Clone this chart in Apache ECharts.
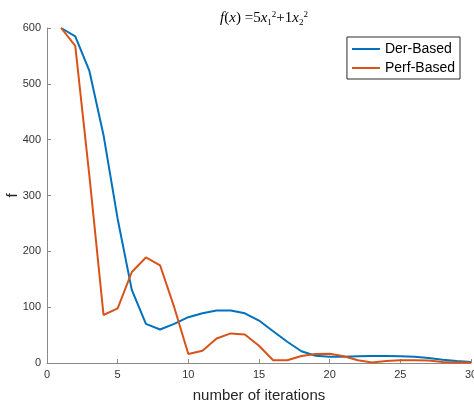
<!DOCTYPE html>
<html>
<head>
<meta charset="utf-8">
<script src="https://cdn.jsdelivr.net/npm/echarts@6/dist/echarts.min.js"></script>
<style>html,body{margin:0;padding:0;background:#fff}#c{width:474px;height:400px}</style>
</head>
<body>
<div id="c"></div>
<script>
var iterations = [1,2,3,4,5,6,7,8,9,10,11,12,13,14,15,16,17,18,19,20,21,22,23,24,25,26,27,28,29,30];
var derBased = [600,585,523,408,258,131,70,60,70,82,89,94,94,89,76,57,38,21,13,11,11,12,12.5,12.5,12,11,9,6,3.5,2];
var perfBased = [600,568,335,86,98,163,189,175,100,16,22,44,53,51,31,5,5,12.5,16,16.5,12,5,1,3.5,5,5,4.5,2,1,1];
var xTicks = {min:0, max:30, interval:5};
var yTicks = {min:0, max:600, interval:100};

function pairs(xs, ys){ return xs.map(function(x,i){ return [x, ys[i]]; }); }

var chart = echarts.init(document.getElementById('c'), null, {renderer:'canvas'});
var axisColor = '#8a8a8a';
var serif = 'Liberation Serif';
chart.setOption({
  animation:false,
  backgroundColor:'#fff',
  title:{
    text:'{it|f}{rm|(}{it|x}{rm|) =5}{it|x}{sub|1}{sup|2}{rm|+1}{it|x}{sub|2}{sup|2}',
    left:259, top:5, textAlign:'center',
    textStyle:{
      fontWeight:'normal',
      rich:{
        it:{fontFamily:serif, fontStyle:'italic', fontWeight:'normal', fontSize:15, color:'#000', lineHeight:17},
        rm:{fontFamily:serif, fontWeight:'normal', fontSize:15, color:'#000', lineHeight:17},
        sub:{fontFamily:serif, fontWeight:'normal', fontSize:9, color:'#000', verticalAlign:'bottom', lineHeight:9},
        sup:{fontFamily:serif, fontWeight:'normal', fontSize:9, color:'#000', verticalAlign:'top', lineHeight:9}
      }
    }
  },
  legend:{
    orient:'vertical', right:14, top:37,
    backgroundColor:'#fff',
    borderColor:'#2a2a2a', borderWidth:1,
    padding:[4,5,3,5], itemGap:3,
    icon:'rect', itemWidth:28, itemHeight:2, itemTextGap:4,
    textStyle:{fontFamily:'Liberation Sans', fontSize:14, color:'#000', lineHeight:16},
    data:['Der-Based','Perf-Based']
  },
  grid:{left:47, right:3, top:28, bottom:37, containLabel:false, outerBoundsMode:'none'},
  xAxis:{
    type:'value', min:xTicks.min, max:xTicks.max, interval:xTicks.interval,
    name:'number of iterations', nameLocation:'middle', nameGap:25, nameMoveOverlap:false,
    nameTextStyle:{fontFamily:'Liberation Sans', fontSize:15, color:'#262626'},
    axisLine:{lineStyle:{color:axisColor, width:1}},
    axisTick:{inside:true, length:4, lineStyle:{color:axisColor}},
    axisLabel:{fontFamily:'Liberation Sans', fontSize:11, color:'#333', margin:6},
    splitLine:{show:false}
  },
  yAxis:{
    type:'value', min:yTicks.min, max:yTicks.max, interval:yTicks.interval,
    name:'f', nameLocation:'middle', nameGap:27, nameMoveOverlap:false,
    nameTextStyle:{fontFamily:'Liberation Sans', fontSize:15, color:'#262626'},
    axisLine:{show:true, lineStyle:{color:axisColor, width:1}},
    axisTick:{show:true, inside:true, length:4, lineStyle:{color:axisColor}},
    axisLabel:{fontFamily:'Liberation Sans', fontSize:11, color:'#333', margin:6},
    splitLine:{show:false}
  },
  series:[
    {name:'Der-Based', type:'line', symbol:'none', data:pairs(iterations, derBased),
     lineStyle:{color:'#0072BD', width:2}, itemStyle:{color:'#0072BD'}},
    {name:'Perf-Based', type:'line', symbol:'none', data:pairs(iterations, perfBased),
     lineStyle:{color:'#D95319', width:2}, itemStyle:{color:'#D95319'}}
  ]
});
</script>
</body>
</html>
